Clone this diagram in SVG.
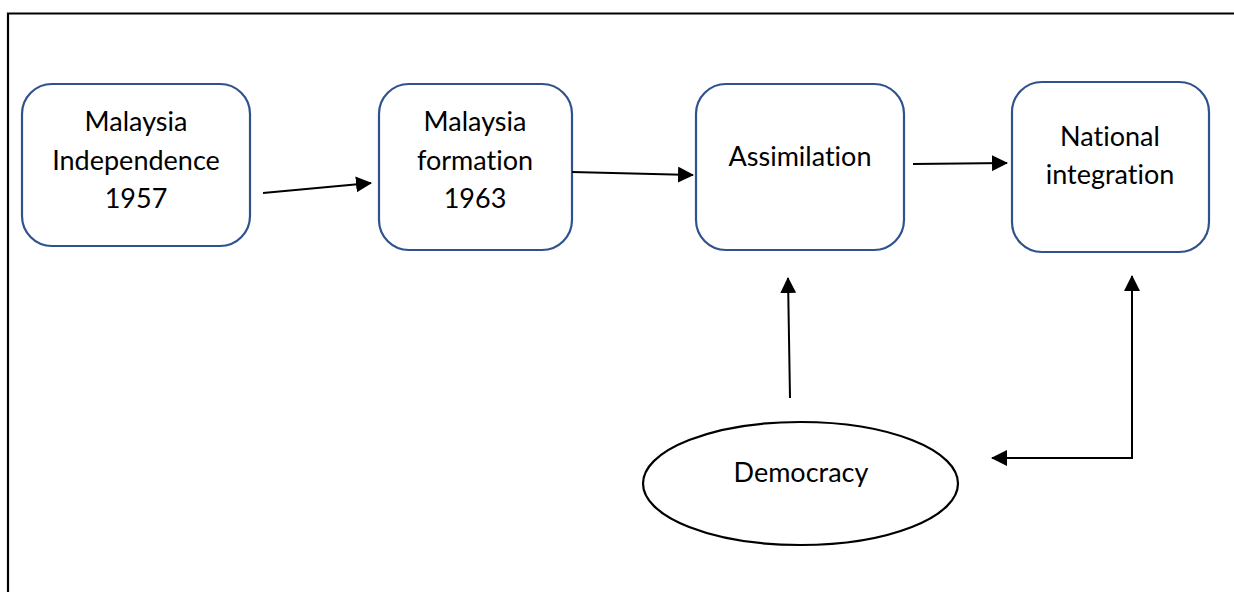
<svg xmlns="http://www.w3.org/2000/svg" width="1234" height="592" viewBox="0 0 1234 592">
<style>
.box{fill:#fff;stroke:#2F528F;stroke-width:2.2}
.ell{fill:#fff;stroke:#000;stroke-width:2.2}
.t{font-family:Lato,"Open Sans","Liberation Sans",sans-serif;font-size:27px;fill:#000;text-anchor:middle;font-variant-ligatures:none}
.c{fill:none;stroke:#000;stroke-width:2}
.frame{fill:none;stroke:#000;stroke-width:2.2}
</style>
<defs>
<marker id="ah" markerUnits="userSpaceOnUse" markerWidth="16" markerHeight="16" refX="15" refY="8" orient="auto-start-reverse" viewBox="0 0 16 16">
<path d="M0,0 L16,8 L0,16 z" fill="#000"/>
</marker>
</defs>
<rect width="1234" height="592" fill="#fff"/>
<path class="frame" d="M8,592 V13.5 H1234"/>
<g id="n1">
<rect class="box" x="22" y="84" width="228" height="162" rx="30"/>
<text class="t" x="136" y="131">Malaysia</text>
<text class="t" x="136" y="170">Independence</text>
<text class="t" x="136" y="208">1957</text>
</g>
<g id="n2">
<rect class="box" x="379" y="84" width="193" height="166" rx="30"/>
<text class="t" x="475" y="131">Malaysia</text>
<text class="t" x="475" y="170">formation</text>
<text class="t" x="475" y="208">1963</text>
</g>
<g id="n3">
<rect class="box" x="696" y="84" width="208" height="166" rx="30"/>
<text class="t" x="800" y="166">Assimilation</text>
</g>
<g id="n4">
<rect class="box" x="1012" y="82" width="197" height="170" rx="30"/>
<text class="t" x="1110" y="146">National</text>
<text class="t" x="1110" y="184">integration</text>
</g>
<g id="n5">
<ellipse class="ell" cx="800.5" cy="483.5" rx="157.5" ry="61.5"/>
<text class="t" x="801" y="482">Democracy</text>
</g>
<g id="connectors">
<line class="c" x1="263" y1="193" x2="371" y2="183" marker-end="url(#ah)"/>
<line class="c" x1="572" y1="172" x2="693" y2="175" marker-end="url(#ah)"/>
<line class="c" x1="913" y1="164" x2="1007" y2="163" marker-end="url(#ah)"/>
<line class="c" x1="790" y1="398" x2="788" y2="278" marker-end="url(#ah)"/>
<path class="c" d="M992,458 H1132 V276" marker-start="url(#ah)" marker-end="url(#ah)"/>
</g>
</svg>
